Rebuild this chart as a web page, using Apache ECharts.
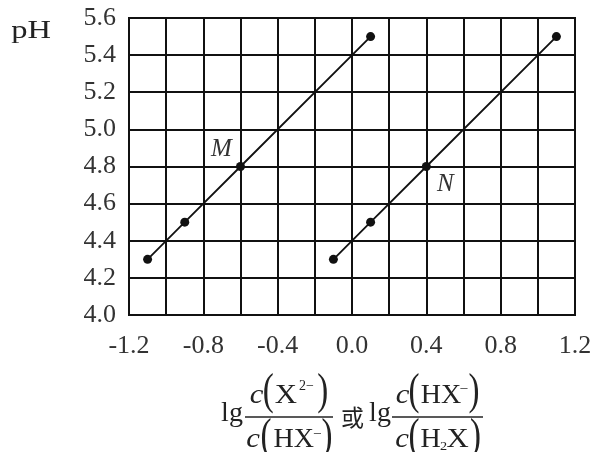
<!DOCTYPE html>
<html><head><meta charset="utf-8">
<script src="https://cdn.jsdelivr.net/npm/echarts@6/dist/echarts.min.js"></script>
<style>html,body{margin:0;padding:0;background:#fff}#c{width:596px;height:452px}</style>
</head><body><div id="c"></div>
<script>
// ---- data ----
const xTickLabels = ['-1.2', '-0.8', '-0.4', '0.0', '0.4', '0.8', '1.2'];
const yTickLabels = ['4.0', '4.2', '4.4', '4.6', '4.8', '5.0', '5.2', '5.4', '5.6'];
const lineMx = [-1.1, -0.9, -0.6, 0.1];
const lineMy = [4.3, 4.5, 4.8, 5.5];
const lineNx = [-0.1, 0.1, 0.4, 1.1];
const lineNy = [4.3, 4.5, 4.8, 5.5];
const labelM = 'M';
const labelN = 'N';

const SERIF = '"Liberation Serif","Times New Roman",serif';
const chart = echarts.init(document.getElementById('c'), null, {renderer: 'canvas'});

function mkData(xs, ys, idx, name, off) {
  return xs.map((x, i) => {
    const d = {value: [x, ys[i]]};
    if (i === idx) {
      d.label = {show: true, formatter: name, position: 'inside', offset: off,
        fontFamily: SERIF, fontStyle: 'italic', fontSize: 25, color: '#333'};
    }
    return d;
  });
}

function txt(x, y, t, size, opt) {
  opt = opt || {};
  return {type: 'text', x: x, y: y, scaleX: opt.sx || 1.1, scaleY: 1,
    style: {x: 0, y: 0, text: t,
      font: (opt.italic ? 'italic ' : '') + size + 'px ' + (opt.ff || SERIF),
      fill: '#222', align: 'center', verticalAlign: 'middle'}};
}

const NY = 396, DY = 440, PN = 392, PD = 437, BAR = 417, PS = 44, LS = 28;
const fracGraphics = [
  // pH
  txt(31, 31, 'pH', 26, {sx: 1.25}),
  // first lg
  txt(232, 414, 'lg', LS, {sx: 1.0}),
  // fraction 1 numerator
  txt(256.5, NY, 'c', LS, {italic: true}),
  txt(268.3, PN, '(', PS, {sx: 0.75}),
  txt(285.8, NY, 'X', LS),
  txt(306.5, 386, '2\u2212', 14, {sx: 1.0}),
  txt(322.8, PN, ')', PS, {sx: 0.75}),
  {type: 'line', shape: {x1: 245, y1: BAR, x2: 333, y2: BAR}, style: {stroke: '#222', lineWidth: 1.5}},
  // fraction 1 denominator
  txt(253, DY, 'c', LS, {italic: true}),
  txt(266, PD, '(', PS, {sx: 0.75}),
  txt(293.8, DY, 'HX', LS, {sx: 1.0}),
  txt(317.5, 434, '\u2212', 14),
  txt(327, PD, ')', PS, {sx: 0.75}),
  // 或
  txt(352.5, 417, '或', 23, {ff: '"Noto Sans CJK SC",sans-serif', sx: 1}),
  // second lg
  txt(380, 414, 'lg', LS, {sx: 1.0}),
  // fraction 2 numerator
  txt(402.5, NY, 'c', LS, {italic: true}),
  txt(414, PN, '(', PS, {sx: 0.75}),
  txt(441, NY, 'HX', LS, {sx: 1.0}),
  txt(464, 389, '\u2212', 14),
  txt(474, PN, ')', PS, {sx: 0.75}),
  {type: 'line', shape: {x1: 392, y1: BAR, x2: 483, y2: BAR}, style: {stroke: '#222', lineWidth: 1.5}},
  // fraction 2 denominator
  txt(402, DY, 'c', LS, {italic: true}),
  txt(414, PD, '(', PS, {sx: 0.75}),
  txt(430.5, DY, 'H', LS, {sx: 1.0}),
  txt(443.5, 447, '2', 13),
  txt(457.5, DY, 'X', LS),
  txt(475.5, PD, ')', PS, {sx: 0.75})
];

const option = {
  animation: false,
  backgroundColor: '#fff',
  grid: {left: 129, right: 21, top: 18, bottom: 137, show: true, borderColor: '#111', borderWidth: 2},
  xAxis: {
    type: 'value', min: -1.2, max: 1.2, interval: 0.2,
    axisLine: {show: true, lineStyle: {color: '#111', width: 2}},
    axisTick: {show: false},
    splitLine: {show: true, lineStyle: {color: '#111', width: 2}},
    axisLabel: {
      margin: 18, fontFamily: SERIF, fontSize: 26, color: '#333',
      formatter: function (v) {
        const s = (Math.round(v * 10) / 10).toFixed(1);
        const t = s === '-0.0' ? '0.0' : s;
        return xTickLabels.indexOf(t) >= 0 ? t : '';
      }
    }
  },
  yAxis: {
    type: 'value', min: 4.0, max: 5.6, interval: 0.2,
    axisLine: {show: true, lineStyle: {color: '#111', width: 2}},
    axisTick: {show: false},
    splitLine: {show: true, lineStyle: {color: '#111', width: 2}},
    axisLabel: {
      margin: 13, fontFamily: SERIF, fontSize: 26, color: '#333',
      formatter: function (v) {
        const s = (Math.round(v * 10) / 10).toFixed(1);
        return yTickLabels.indexOf(s) >= 0 ? s : '';
      }
    }
  },
  series: [
    {type: 'line', data: mkData(lineMx, lineMy, 2, labelM, [-19, -17]), symbol: 'circle', symbolSize: 9,
      lineStyle: {color: '#111', width: 1.8}, itemStyle: {color: '#111'}, z: 5},
    {type: 'line', data: mkData(lineNx, lineNy, 2, labelN, [19, 18]), symbol: 'circle', symbolSize: 9,
      lineStyle: {color: '#111', width: 1.8}, itemStyle: {color: '#111'}, z: 5}
  ],
  graphic: fracGraphics
};
chart.setOption(option);
</script>
</body></html>
